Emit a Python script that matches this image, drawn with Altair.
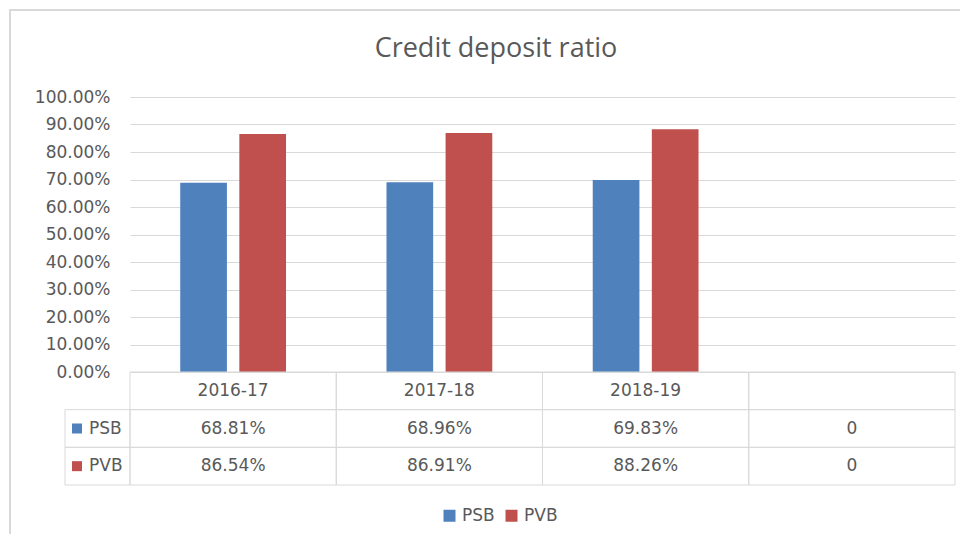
import altair as alt
import pandas as pd

# ---- data ----
title_text = "Credit deposit ratio"
categories = ["2016-17", "2017-18", "2018-19", " "]
series = ["PSB", "PVB"]
psb_values = [0.6881, 0.6896, 0.6983, 0.0]
pvb_values = [0.8654, 0.8691, 0.8826, 0.0]
y_ticks = [0.0, 0.1, 0.2, 0.3, 0.4, 0.5, 0.6, 0.7, 0.8, 0.9, 1.0]
colors = ["#4f81bd", "#c0504d"]

TEXT = "#595959"
GRID = "#d9d9d9"
FONT = "DejaVu Sans"

rows = []
for s, vals in zip(series, [psb_values, pvb_values]):
    for c, v in zip(categories, vals):
        rows.append({
            "category": c,
            "series": s,
            "row": s,
            "value": v,
            "label": "0" if v == 0 else f"{v * 100:.2f}%",
        })
bars_df = pd.DataFrame(rows)
header_df = pd.DataFrame({
    "category": categories,
    "row": ["header"] * len(categories),
    "label": [c.strip() for c in categories],
})
cells_df = pd.concat([header_df, bars_df[["category", "row", "label"]]], ignore_index=True)
labels_df = pd.DataFrame({"row": series, "series": series})

x_scale = alt.Scale(domain=categories, paddingInner=0, paddingOuter=0)
row_scale = alt.Scale(type="band", domain=["header"] + series, range=[275, 388],
                      paddingInner=0, paddingOuter=0)
color_scale = alt.Scale(domain=series, range=colors)

legend = alt.Legend(orient="none", legendX=311, legendY=410, direction="horizontal",
                    title=None, symbolType="square", symbolSize=144, symbolStrokeWidth=0,
                    labelFontSize=17, labelFont=FONT, labelColor=TEXT,
                    columnPadding=8, labelOffset=4)

# ---- outer border and title ----
border = alt.Chart(pd.DataFrame({"k": [0]})).mark_rect(
    fill="transparent", stroke=GRID, strokeWidth=2
).encode(x=alt.value(-120), x2=alt.value(900), y=alt.value(-87), y2=alt.value(600))

title = alt.Chart(pd.DataFrame({"t": [title_text]})).mark_text(
    font="Open Sans", fontSize=27, color=TEXT, align="center", baseline="alphabetic"
).encode(x=alt.value(366), y=alt.value(-40), text="t:N")

# ---- bars ----
bars = alt.Chart(bars_df).mark_bar().encode(
    x=alt.X("category:N", scale=x_scale, sort=categories, axis=None),
    xOffset=alt.XOffset("series:N", sort=series,
                        scale=alt.Scale(domain=series, paddingInner=0.21, paddingOuter=0.85)),
    y=alt.Y("value:Q", scale=alt.Scale(domain=[0, 1], range=[275, 0]),
            axis=alt.Axis(values=y_ticks, format=".2%", title=None, grid=True,
                          gridColor=GRID, gridWidth=1, domain=False, ticks=False,
                          labelPadding=20, labelFontSize=17, labelFont=FONT,
                          labelColor=TEXT)),
    color=alt.Color("series:N", scale=color_scale, legend=legend),
)

# ---- data table ----
cells = alt.Chart(cells_df).mark_rect(fill="transparent", stroke=GRID, strokeWidth=1).encode(
    x=alt.X("category:N", scale=x_scale, sort=categories, axis=None),
    y=alt.Y("row:N", scale=row_scale, axis=None),
)
cell_text = alt.Chart(cells_df).mark_text(font=FONT, fontSize=17, color=TEXT,
                                          baseline="middle").encode(
    x=alt.X("category:N", scale=x_scale, sort=categories, axis=None),
    y=alt.Y("row:N", scale=row_scale, axis=None),
    text="label:N",
)
label_cells = alt.Chart(labels_df).mark_rect(fill="transparent", stroke=GRID, strokeWidth=1).encode(
    x=alt.value(-65), x2=alt.value(0),
    y=alt.Y("row:N", scale=row_scale, axis=None),
)
label_squares = alt.Chart(labels_df).mark_square(size=100, opacity=1).encode(
    x=alt.value(-53),
    y=alt.Y("row:N", scale=row_scale, axis=None),
    color=alt.Color("series:N", scale=color_scale, legend=legend),
)
label_text = alt.Chart(labels_df).mark_text(font=FONT, fontSize=17, color=TEXT,
                                            align="left", baseline="middle").encode(
    x=alt.value(-41),
    y=alt.Y("row:N", scale=row_scale, axis=None),
    text="series:N",
)
table = alt.layer(cells, cell_text, label_cells, label_squares, label_text)

chart = alt.layer(border, title, bars, table).resolve_scale(y="independent").properties(
    width=825, height=388, autosize="none",
    padding={"left": 122, "top": 89, "right": 5, "bottom": 49},
).configure_view(stroke="transparent")

chart.save("out.html", embed_options={"renderer": "svg", "actions": False})
